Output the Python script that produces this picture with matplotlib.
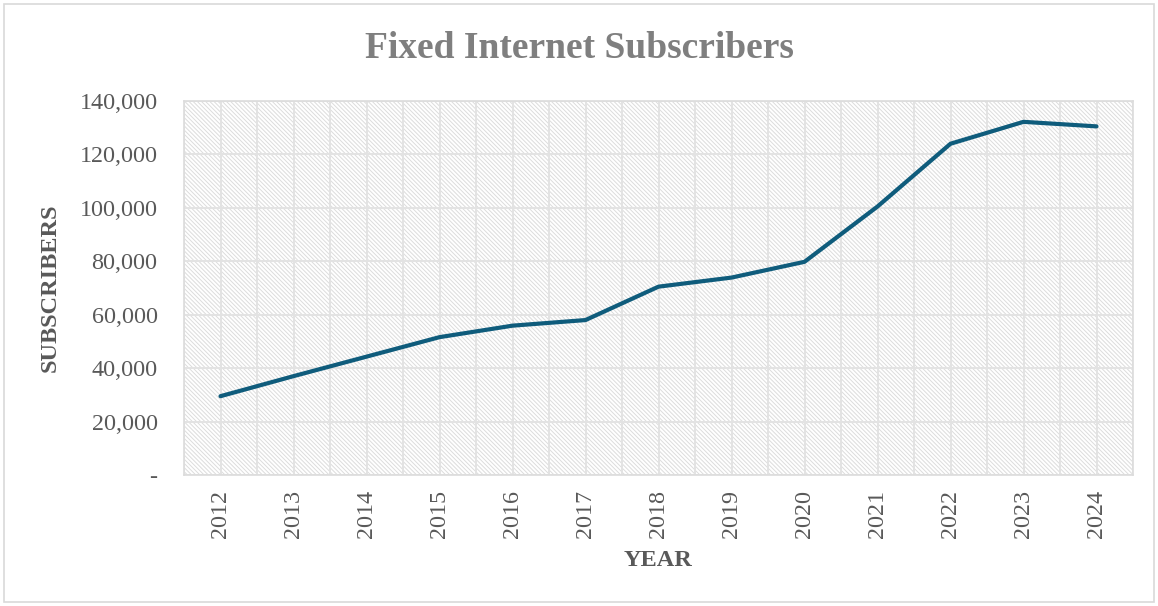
import matplotlib
matplotlib.use("Agg")
import matplotlib.pyplot as plt
from matplotlib.ticker import FuncFormatter, MultipleLocator
from matplotlib.patches import Rectangle
import numpy as np

years = ["2012", "2013", "2014", "2015", "2016", "2017", "2018",
         "2019", "2020", "2021", "2022", "2023", "2024"]
subscribers = [29500, 37000, 44300, 51600, 55900, 58000, 70500,
               73900, 79800, 100500, 124000, 132200, 130500]

plt.rcParams['font.family'] = ['Liberation Serif', 'DejaVu Serif']
plt.rcParams['hatch.linewidth'] = 0.7
plt.rcParams['hatch.color'] = '#dcdcdc'

fig = plt.figure(figsize=(11.58, 6.06), dpi=100)
ax = fig.add_axes([184/1158, 1-475/606, (1133-184)/1158, (475-101)/606])

x = np.arange(len(years))
ax.set_xlim(-0.5, len(years) - 0.5)
ax.set_ylim(0, 140000)

bg = Rectangle((0, 0), 1, 1, transform=ax.transAxes, facecolor='white',
               edgecolor='#dcdcdc', hatch='\\\\\\\\\\\\\\\\', linewidth=0, zorder=0)
ax.add_patch(bg)

ax.set_xticks(x)
ax.set_xticks(np.arange(-0.5, len(years), 1.0), minor=True)
ax.set_xticklabels(years, rotation=90)
ax.yaxis.set_major_locator(MultipleLocator(20000))
ax.yaxis.set_major_formatter(FuncFormatter(lambda v, p: '-' if v == 0 else f"{int(v):,}"))

ax.grid(True, which='major', color='#e3e3e3', linewidth=1.4, zorder=1)
ax.grid(True, which='minor', axis='x', color='#e3e3e3', linewidth=1.4, zorder=1)
ax.set_axisbelow(True)

ax.plot(x, subscribers, color='#0f5c7c', linewidth=3.0, solid_capstyle='round',
        solid_joinstyle='round', zorder=3)

for s in ax.spines.values():
    s.set_color('#dcdcdc')
    s.set_linewidth(1.2)

ax.tick_params(axis='both', which='both', length=0, colors='#595959', labelsize=17.4)
ax.tick_params(axis='y', pad=19)
ax.tick_params(axis='x', pad=11)

fig.text(0.5, 1-49/606, "Fixed Internet Subscribers", ha='center', va='center',
         fontsize=27, fontweight='bold', color='#7f7f7f')
fig.text(50/1158, 1-288/606, "SUBSCRIBERS", ha='center', va='center', rotation=90,
         fontsize=17.5, fontweight='bold', color='#595959')
fig.text(658/1158, 1-561/606, "YEAR", ha='center', va='center',
         fontsize=17.5, fontweight='bold', color='#595959')

fig.patches.append(Rectangle((4/1158, 4/606), 1150/1158, 598/606, transform=fig.transFigure,
                             fill=False, edgecolor='#d9d9d9', linewidth=1.2))

fig.savefig("out.png", dpi=100)
